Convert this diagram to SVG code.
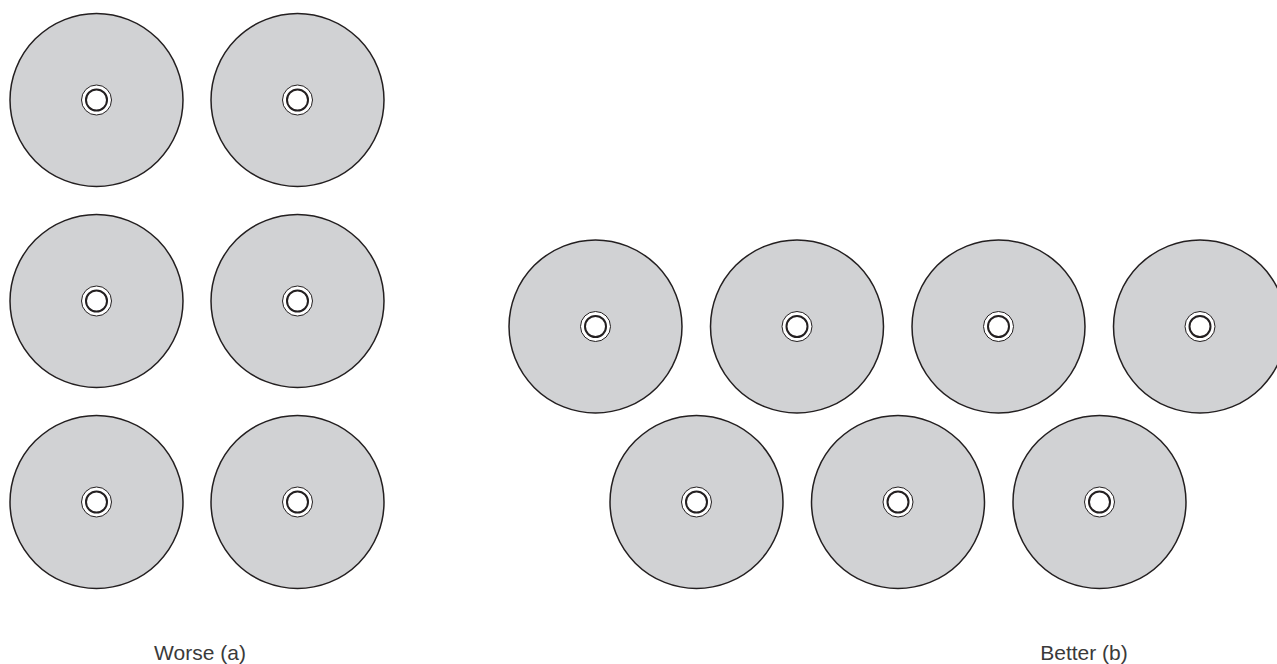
<svg xmlns="http://www.w3.org/2000/svg" width="1277" height="664" viewBox="0 0 1277 664">
<defs>
<style>
.disc{fill:#d1d2d4;stroke:#231f20;stroke-width:1.5}
.ring{fill:#ffffff;stroke:#231f20;stroke-width:1}
.hole{fill:#ffffff;stroke:#231f20;stroke-width:2}
.lbl{font-family:"Liberation Sans",Arial,sans-serif;font-size:21px;fill:#3a3a3a;text-anchor:middle}
</style>
<g id="cd">
<circle class="disc" cx="0" cy="0" r="86.5"/>
<circle class="ring" cx="0" cy="0" r="15"/>
<circle class="hole" cx="0" cy="0" r="10.5"/>
</g>
</defs>
<rect width="1277" height="664" fill="#ffffff"/>
<g id="worse">
<use id="w1" href="#cd" x="96.5" y="100"/>
<use id="w2" href="#cd" x="297.5" y="100"/>
<use id="w3" href="#cd" x="96.5" y="301"/>
<use id="w4" href="#cd" x="297.5" y="301"/>
<use id="w5" href="#cd" x="96.5" y="502"/>
<use id="w6" href="#cd" x="297.5" y="502"/>
</g>
<g id="better">
<use id="b1" href="#cd" x="595.5" y="326.5"/>
<use id="b2" href="#cd" x="797" y="326.5"/>
<use id="b3" href="#cd" x="998.5" y="326.5"/>
<use id="b4" href="#cd" x="1200" y="326.5"/>
<use id="b5" href="#cd" x="696.5" y="502"/>
<use id="b6" href="#cd" x="898" y="502"/>
<use id="b7" href="#cd" x="1099.5" y="502"/>
</g>
<g id="labels">
<text class="lbl" x="200" y="660">Worse (a)</text>
<text class="lbl" x="1084" y="660">Better (b)</text>
</g>
</svg>
